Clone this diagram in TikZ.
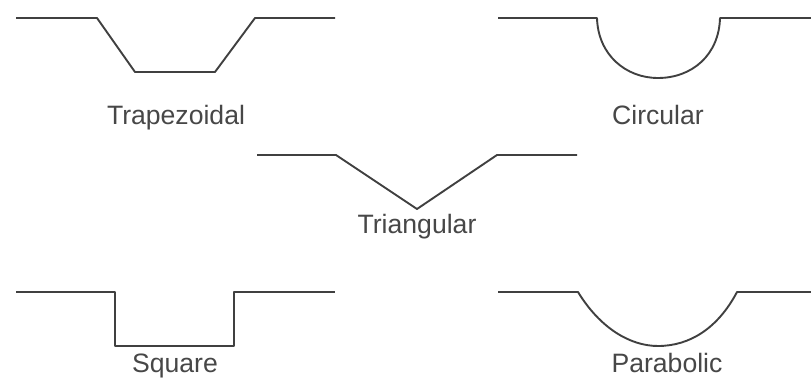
\documentclass[tikz,border=0pt]{standalone}
\usepackage{fontspec}
\setmainfont{Liberation Sans}
\tikzset{channel/.style={draw=black!75,line width=1.9pt,line join=round},
lab/.style={font=\fontsize{26.6}{30}\selectfont,text=black!72,inner sep=0pt,anchor=base}}
\begin{document}
\begin{tikzpicture}[x=1pt,y=-1pt]
\useasboundingbox (0,0) rectangle (811,379);
\draw[channel] (16,18) -- (97,18) -- (135,72) -- (215,72) -- (255,18) -- (335,18);
\draw[channel] (498,18) -- (597,18) .. controls (598,55) and (626,78) .. (658,78) .. controls (692,78) and (719,55) .. (720,18) -- (811,18);
\draw[channel] (257,155) -- (336,155) -- (417,209) -- (497,155) -- (577,155);
\draw[channel] (16,292) -- (115,292) -- (115,346) -- (234,346) -- (234,292) -- (335,292);
\draw[channel] (498,292) -- (578,292) .. controls (600,328) and (630,346) .. (658,346) .. controls (690,346) and (718,328) .. (737,292) -- (811,292);
\node[lab] (t1) at (176,125) {Trapezoidal};
\node[lab] (t2) at (658,125) {Circular};
\node[lab] (t3) at (417,234) {Triangular};
\node[lab] (t4) at (175,372.5) {Square};
\node[lab] (t5) at (667,372.5) {Parabolic};
\end{tikzpicture}
\end{document}
